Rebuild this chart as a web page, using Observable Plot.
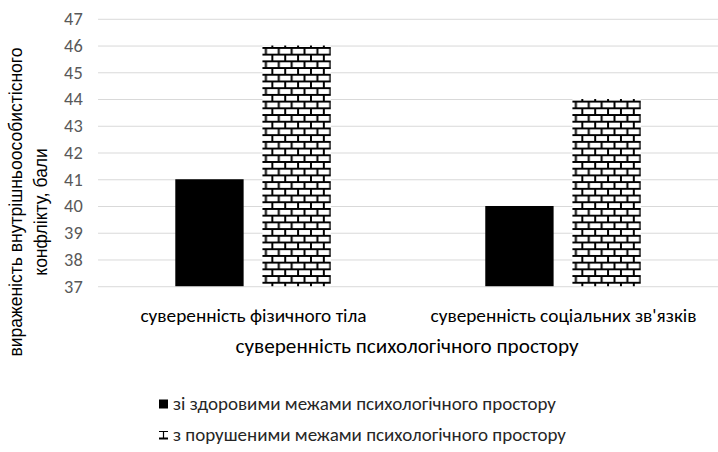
<!DOCTYPE html>
<html>
<head>
<meta charset="utf-8">
<script src="https://cdn.jsdelivr.net/npm/d3@7"></script>
<script src="https://cdn.jsdelivr.net/npm/@observablehq/plot@0.6"></script>
<style>
  html, body { margin: 0; padding: 0; background: #fff; }
  body { width: 718px; height: 452px; overflow: hidden; position: relative; }
  .cal { font-family: Carlito, "Liberation Sans Narrow", Roboto, sans-serif; }
  #legend .row { position: absolute; left: 159px; display: flex; align-items: center; font-size: 19px; color: #262626; white-space: nowrap; }
  #legend svg { margin-right: 4px; }
</style>
</head>
<body>
<svg width="0" height="0" style="position:absolute">
  <defs>
    <pattern id="brick" patternUnits="userSpaceOnUse" width="13" height="13.55">
      <rect width="13" height="13.55" fill="#fff"/>
      <path d="M0 1H13 M0 7.775H13" stroke="#000" stroke-width="2"/>
      <path d="M1 0V6.775 M7.5 6.775V13.55" stroke="#000" stroke-width="2"/>
    </pattern>
  </defs>
</svg>
<div id="chart"></div>
<div id="legend" class="cal"></div>
<script>
const categories = ["суверенність фізичного тіла", "суверенність соціальних зв'язків"];
const series = ["зі здоровими межами психологічного простору", "з порушеними межами психологічного простору"];
const healthyValues = [41, 40];
const violatedValues = [46, 44];
const yTicks = [37, 38, 39, 40, 41, 42, 43, 44, 45, 46, 47];
const yTitleLines = ["вираженість внутрішньоособистісного", "конфлікту, бали"];
const xTitle = "суверенність психологічного простору";

const table = [];
categories.forEach((c, i) => {
  table.push({category: c, series: series[0], value: healthyValues[i]});
  table.push({category: c, series: series[1], value: violatedValues[i]});
});
const baseline = yTicks[0];

const chart = Plot.plot({
  width: 725,
  height: 372,
  marginLeft: 98,
  marginRight: 0,
  marginTop: 19,
  marginBottom: 83,
  style: {fontFamily: 'Carlito, "Liberation Sans Narrow", Roboto, sans-serif', background: "#fff", overflow: "visible"},
  fx: {domain: categories, padding: 0, label: null, tickSize: 0, tickPadding: 22, axis: "bottom"},
  x: {domain: series, axis: null, paddingInner: 0.2135, paddingOuter: 0.868},
  y: {domain: [yTicks[0], yTicks[yTicks.length - 1]], ticks: yTicks, tickSize: 0, tickPadding: 16, label: null},
  marks: [
    Plot.ruleY(yTicks, {stroke: "#d9d9d9", strokeWidth: 1}),
    Plot.barY(table.filter(d => d.series === series[0]), {fx: "category", x: "series", y1: baseline, y2: "value", fill: "#000"}),
    Plot.barY(table.filter(d => d.series === series[1]), {fx: "category", x: "series", y1: baseline, y2: "value", fill: "url(#brick)"})
  ]
});
document.getElementById("chart").appendChild(chart);

const svg = d3.select(chart);
svg.selectAll("g[aria-label='y-axis tick label']").attr("fill", "#595959").attr("font-size", 18.5);
svg.selectAll("g[aria-label='fx-axis tick label']").attr("font-size", 19.5).attr("fill", "#000");

svg.append("text")
  .attr("x", 411).attr("y", 351)
  .attr("text-anchor", "middle").attr("dominant-baseline", "middle")
  .attr("font-size", 21.4).attr("fill", "#000")
  .text(xTitle);

const yt = svg.append("g").attr("font-family", '"Liberation Sans", Arial, sans-serif').attr("font-size", 17.7).attr("fill", "#000");
yt.append("text").attr("transform", "translate(18,204) rotate(-90)")
  .attr("text-anchor", "middle").attr("dominant-baseline", "middle").text(yTitleLines[0]);
yt.append("text").attr("transform", "translate(43,214) rotate(-90)")
  .attr("text-anchor", "middle").attr("dominant-baseline", "middle").text(yTitleLines[1]);

// legend
const legend = d3.select("#legend");
const r1 = legend.append("div").attr("class", "row").style("top", "392px");
r1.append("svg").attr("width", 10).attr("height", 10).append("rect").attr("width", 9).attr("height", 9).attr("y", 0.5).attr("fill", "#000");
r1.append("span").text(series[0]);
const r2 = legend.append("div").attr("class", "row").style("top", "423px");
const m2 = r2.append("svg").attr("width", 10).attr("height", 10);
m2.append("path").attr("d", "M0 1.5H9 M4.5 1.5V8").attr("stroke", "#000").attr("stroke-width", 1.2).attr("fill", "none");
m2.append("path").attr("d", "M0 8.5H9").attr("stroke", "#000").attr("stroke-width", 2).attr("fill", "none");
r2.append("span").text(series[1]);
</script>
</body>
</html>
